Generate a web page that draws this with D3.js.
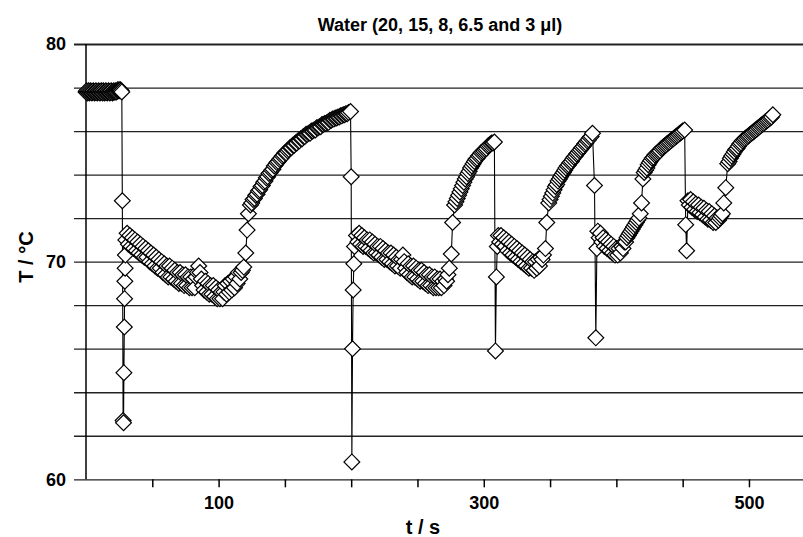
<!DOCTYPE html>
<html>
<head>
<meta charset="utf-8">
<script src="https://cdn.jsdelivr.net/npm/d3@7"></script>
<style>
    body { margin: 0; background: #fff; }
    svg { display: block; font-family: "Liberation Sans", Arial, sans-serif; }
</style>
</head>
<body>
<svg id="chart" width="803" height="537"></svg>
<script>
// [t (s), T (°C)] readings, one array per phase of the run
var preheat = [[0,77.8],[0.5,77.85],[1,77.75],[1.5,77.8],[2,77.85],[2.5,77.75],[3,77.8],[3.5,77.85],[4,77.8],[4.5,77.75],[5,77.8],[5.5,77.85],[6,77.8],[6.5,77.75],[7,77.8],[7.5,77.85],[8,77.8],[8.5,77.75],[9,77.8],[9.5,77.85],[10,77.8],[10.5,77.75],[11,77.8],[11.5,77.85],[12,77.8],[12.5,77.75],[13,77.85],[13.5,77.8],[14,77.75],[14.5,77.8],[15,77.85],[15.5,77.8],[16,77.75],[16.5,77.8],[17,77.85],[17.5,77.8],[18,77.75],[18.5,77.8],[19,77.85],[19.5,77.8],[20,77.75],[20.5,77.8],[21,77.85],[21.5,77.8],[22,77.8],[22.5,77.85],[23,77.8],[23.5,77.85],[24,77.9],[24.5,77.85],[25,77.9],[25.5,77.85],[26,77.9],[26.5,77.85],[27,77.8]];
var drop1 = [[27.4,72.8],[28.0,62.7],[28.3,62.6],[28.6,64.9],[28.9,67.0],[29.1,68.3],[29.3,69.1],[29.5,69.7],[29.7,70.3]];
var cool1 = [[30,71.0],[31,71.3],[32,70.8],[33,71.2],[34,70.7],[35,71.1],[36,70.6],[37,71.0],[38,70.5],[39,70.9],[40,70.4],[41,70.8],[42,70.3],[43,70.7],[44,70.2],[45,70.6],[46,70.2],[47,70.5],[48,70.0],[49,70.4],[50,69.9],[51,70.3],[52,69.8],[53,70.2],[54,69.7],[55,70.1],[56,69.7],[57,70.0],[58,69.5],[59,69.9],[60,69.4],[61,69.8],[62,69.3],[63,69.8],[64,69.3],[65,69.7],[66,69.2],[67,69.6],[68,69.1],[69,69.5],[70,69.0],[71,69.5],[72,69.0],[73,69.4],[74,68.9],[75,69.4],[76,68.9],[77,69.3],[78,68.8],[79,69.3],[80,68.8],[81,69.2],[82,68.8],[83,69.3],[84,69.5],[85,69.8],[86,69.5],[87,69.2],[88,68.9],[89,68.7],[90,69.1],[91,68.6],[92,69.0],[93,68.5],[94,68.9],[95,68.5],[96,68.9],[97,68.4],[98,68.8],[99,68.3],[100,68.7],[101,68.3],[102,68.6],[103,68.3],[104,68.6],[105,68.9],[106,68.5],[107,69.0],[108,68.6],[109,69.1],[110,68.7],[111,69.2],[112,68.8],[113,69.3],[114,69.0],[115,69.5],[116,69.2],[117,69.5],[118,69.6],[119,69.75]];
var heat1 = [[120.5,70.4],[121.5,71.45],[122.5,72.2],[124,72.6],[125,72.7],[126,72.85],[127,72.9],[128,73.05],[129,73.1],[130,73.25],[131,73.3],[132,73.45],[133,73.5],[134,73.65],[135,73.7],[136,73.85],[137,73.9],[138,74.05],[139,74.1],[140,74.2],[141,74.25],[142,74.4],[143,74.45],[144,74.55],[145,74.6],[146,74.7],[147,74.75],[148,74.85],[149,74.9],[150,75.0],[151,75.0],[152,75.1],[153,75.15],[154,75.25],[155,75.25],[156,75.35],[157,75.35],[158,75.45],[159,75.45],[160,75.55],[161,75.55],[162,75.65],[163,75.65],[164,75.75],[165,75.75],[166,75.85],[167,75.85],[168,75.9],[169,75.9],[170,76.0],[171,76.0],[172,76.05],[173,76.05],[174,76.15],[175,76.15],[176,76.2],[177,76.2],[178,76.3],[179,76.3],[180,76.35],[181,76.35],[182,76.4],[183,76.4],[184,76.5],[185,76.5],[186,76.55],[187,76.55],[188,76.6],[189,76.6],[190,76.65],[191,76.65],[192,76.7],[193,76.7],[194,76.75],[195,76.75],[196,76.8],[197,76.8],[198,76.85],[199.5,76.9]];
var drop2 = [[200,73.9],[200.5,60.8],[201,66.0],[201.5,68.7],[202,69.9],[202.5,70.7]];
var cool2 = [[204,71.2],[205,70.9],[206,71.3],[207,70.8],[208,71.2],[209,70.7],[210,71.1],[211,70.7],[212,71.0],[213,70.6],[214,71.0],[215,70.5],[216,70.9],[217,70.4],[218,70.8],[219,70.4],[220,70.7],[221,70.3],[222,70.7],[223,70.2],[224,70.6],[225,70.1],[226,70.5],[227,70.1],[228,70.4],[229,70.0],[230,70.4],[231,69.9],[232,70.3],[233,69.8],[234,70.2],[235,69.8],[236,70.1],[237,69.7],[238,70.1],[239,70.3],[240,70.0],[241,69.7],[242,69.5],[243,69.9],[244,69.4],[245,69.8],[246,69.3],[247,69.8],[248,69.3],[249,69.7],[250,69.2],[251,69.6],[252,69.1],[253,69.6],[254,69.1],[255,69.5],[256,69.0],[257,69.4],[258,68.9],[259,69.4],[260,68.9],[261,69.3],[262,68.8],[263,69.3],[264,68.8],[265,69.2],[266,68.8],[267,69.2],[268,68.8],[269,69.1],[270,68.9],[271,69.2],[272,69.1],[273,69.4],[274,69.7]];
var heat2 = [[275.5,70.35],[276.5,71.8],[278,72.6],[279,72.75],[280,72.9],[281,73.05],[282,73.2],[283,73.35],[284,73.5],[285,73.65],[286,73.8],[287,73.9],[288,74.05],[289,74.15],[290,74.3],[291,74.4],[292,74.5],[293,74.6],[294,74.7],[295,74.75],[296,74.85],[297,74.9],[298,75.0],[299,75.05],[300,75.1],[301,75.15],[302,75.2],[303,75.3],[304,75.35],[305,75.4],[306,75.45],[307,75.45],[308,75.5]];
var drop3 = [[308.8,65.9],[309.5,69.3],[310.2,70.7]];
var cool3 = [[311,71.2],[312,70.9],[313,71.2],[314,70.8],[315,71.1],[316,70.7],[317,71.0],[318,70.5],[319,70.9],[320,70.4],[321,70.8],[322,70.3],[323,70.7],[324,70.2],[325,70.6],[326,70.1],[327,70.5],[328,70.0],[329,70.4],[330,69.9],[331,70.3],[332,69.8],[333,70.2],[334,69.7],[335,70.1],[336,69.7],[337,70.0],[338,69.6],[339,70.0],[340,69.7],[341,70.1],[342,69.8],[343,70.2],[344,70.1],[345,70.3],[346.5,70.6],[347.5,71.8],[349,72.7]];
var heat3 = [[350,72.85],[351,73.0],[352,73.15],[353,73.3],[354,73.45],[355,73.55],[356,73.7],[357,73.8],[358,73.9],[359,74.0],[360,74.1],[361,74.2],[362,74.3],[363,74.4],[364,74.45],[365,74.55],[366,74.6],[367,74.7],[368,74.8],[369,74.85],[370,74.95],[371,75.0],[372,75.1],[373,75.15],[374,75.25],[375,75.3],[376,75.4],[377,75.45],[378,75.55],[379,75.6],[380,75.7],[381,75.75],[382,75.9]];
var drop4 = [[383.5,73.5],[384.5,66.5],[385.3,70.6]];
var cool4 = [[386,71.4],[387,71.1],[388,71.3],[389,70.9],[390,71.1],[391,70.7],[392,71.0],[393,70.6],[394,70.9],[395,70.5],[396,70.8],[397,70.4],[398,70.7],[399,70.3],[400,70.6],[401,70.3],[402,70.6],[403,70.4],[404,70.7],[405,70.6],[406,70.9],[407,70.9],[408,71.1],[409,71.2],[410,71.3],[411,71.4],[412,71.5],[413,71.6],[414,71.7],[415,71.8],[416,71.9],[417,72.0],[418,72.2],[419,72.7],[420,73.8]];
var heat4 = [[421,74.1],[422,74.2],[423,74.3],[424,74.45],[425,74.55],[426,74.65],[427,74.75],[428,74.8],[429,74.9],[430,74.95],[431,75.0],[432,75.05],[433,75.1],[434,75.2],[435,75.25],[436,75.3],[437,75.35],[438,75.4],[439,75.45],[440,75.5],[441,75.55],[442,75.6],[443,75.65],[444,75.7],[445,75.75],[446,75.8],[447,75.85],[448,75.9],[449,75.95],[450,76.0],[451.5,76.05]];
var drop5 = [[452.3,71.7],[453,70.5]];
var cool5 = [[454,72.8],[455,72.6],[456,72.85],[457,72.5],[458,72.75],[459,72.4],[460,72.65],[461,72.3],[462,72.6],[463,72.25],[464,72.5],[465,72.15],[466,72.45],[467,72.05],[468,72.35],[469,71.95],[470,72.3],[471,71.9],[472,72.2],[473,71.8],[474,72.1],[475,71.8],[476,72.0],[477,71.9],[478,72.0],[479,72.1],[480,72.2],[481,72.7],[482.5,73.4]];
var heat5 = [[484,74.5],[485,74.6],[486,74.75],[487,74.85],[488,74.95],[489,75.05],[490,75.15],[491,75.2],[492,75.3],[493,75.4],[494,75.45],[495,75.55],[496,75.6],[497,75.65],[498,75.7],[499,75.75],[500,75.8],[501,75.85],[502,75.9],[503,75.95],[504,76.0],[505,76.05],[506,76.1],[507,76.15],[508,76.2],[509,76.25],[510,76.3],[511,76.35],[512,76.4],[513,76.45],[514,76.5],[515,76.55],[516,76.6],[517,76.65],[518,76.75]];

var yGrid = [60, 62, 64, 66, 68, 70, 72, 74, 76, 78, 80];
var yLabels = [60, 70, 80];
var xTicks = [50, 100, 150, 200, 250, 300, 350, 400, 450, 500];
var xLabels = [100, 300, 500];

var title = 'Water (20, 15, 8, 6.5 and 3 \u03bcl)';

var series = [].concat(preheat, drop1, cool1, heat1, drop2, cool2, heat2,
    drop3, cool3, heat3, drop4, cool4, heat4, drop5, cool5, heat5);

var svg = d3.select('#chart');

var x = d3.scaleLinear().domain([0, 540]).range([86, 802]);
var y = d3.scaleLinear().domain([60, 80]).range([479.3, 44]);

// horizontal grid doubles as the left ticks
var gy = svg.append('g')
    .attr('transform', 'translate(74,0)')
    .call(d3.axisLeft(y)
        .tickValues(yGrid)
        .tickSize(-(803 - 74))
        .tickPadding(8)
        .tickFormat(d => yLabels.indexOf(d) >= 0 ? d : ''));
gy.select('.domain').remove();
gy.selectAll('line')
    .attr('stroke', '#222')
    .attr('stroke-width', d => d === 80 ? 2.2 : 1.3);
gy.selectAll('text')
    .attr('fill', '#000')
    .attr('font-size', 18)
    .attr('font-weight', 'bold');

var gx = svg.append('g')
    .attr('transform', 'translate(0,' + y(60) + ')')
    .call(d3.axisBottom(x)
        .tickValues(xTicks)
        .tickSize(8)
        .tickPadding(9)
        .tickFormat(d => xLabels.indexOf(d) >= 0 ? d : ''));
gx.select('.domain').remove();
gx.selectAll('line')
    .attr('stroke', '#000')
    .attr('stroke-width', 1.5);
gx.selectAll('text')
    .attr('fill', '#000')
    .attr('font-size', 18)
    .attr('font-weight', 'bold');

svg.append('line')
    .attr('x1', x(0)).attr('x2', x(0))
    .attr('y1', y(80)).attr('y2', y(60))
    .attr('stroke', '#000')
    .attr('stroke-width', 1.5);

// connecting line, then the open diamonds on top
var line = d3.line()
    .x(d => x(d[0]))
    .y(d => y(d[1]));

svg.append('path')
    .datum(series)
    .attr('fill', 'none')
    .attr('stroke', '#000')
    .attr('stroke-width', 1.1)
    .attr('d', line);

svg.append('g')
    .selectAll('path')
    .data(series)
    .join('path')
    .attr('d', d3.symbol(d3.symbolSquare, 125))
    .attr('transform', d => 'translate(' + x(d[0]) + ',' + y(d[1]) + ') rotate(45)')
    .attr('fill', '#fff')
    .attr('stroke', '#000')
    .attr('stroke-width', 1.2);

svg.append('text')
    .attr('x', 440)
    .attr('y', 31)
    .attr('text-anchor', 'middle')
    .attr('font-size', 18)
    .attr('font-weight', 'bold')
    .text(title);

svg.append('text')
    .attr('x', 423)
    .attr('y', 534)
    .attr('text-anchor', 'middle')
    .attr('font-size', 20)
    .attr('font-weight', 'bold')
    .text('t / s');

svg.append('text')
    .attr('transform', 'translate(33,257) rotate(-90)')
    .attr('text-anchor', 'middle')
    .attr('font-size', 20)
    .attr('font-weight', 'bold')
    .text('T / \u00b0C');
</script>
</body>
</html>
